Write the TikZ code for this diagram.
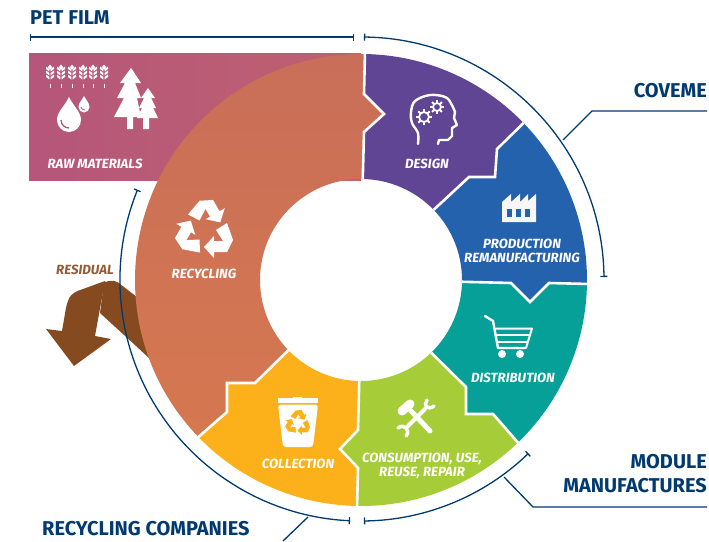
\documentclass[tikz,border=0pt]{standalone}
\usepackage{fontspec}
\setmainfont{Fira Sans}
\usetikzlibrary{calc}
\usetikzlibrary{arrows.meta}
\definecolor{navy}{HTML}{003A70}
\definecolor{rawleft}{HTML}{B5567A}
\definecolor{rawright}{HTML}{BF6170}
\definecolor{recytop}{HTML}{C96E59}
\definecolor{recybot}{HTML}{D5784F}
\definecolor{designc}{HTML}{604595}
\definecolor{prodc}{HTML}{2462AE}
\definecolor{distc}{HTML}{06A099}
\definecolor{usec}{HTML}{A6CD38}
\definecolor{collc}{HTML}{FCB019}
\definecolor{residc}{HTML}{864A20}
\tikzset{
    headlab/.style={font=\fontsize{20}{24}\selectfont\bfseries, text=navy, inner sep=0pt, align=right},
    steplab/.style={font=\fontsize{13.3}{14}\selectfont\bfseries\itshape, text=white, inner sep=0pt, align=center},
    navyline/.style={navy, line width=1.3pt},
    navybar/.style={navyline, {Bar[width=7pt,line width=1.3pt]}-{Bar[width=7pt,line width=1.3pt]}},
    sepline/.style={white, line width=2.6pt, line join=miter},
    iconline/.style={white, line width=2.4pt, line cap=round, line join=round},
    % three chasing arrows, drawn around their centre
    recyclesign/.pic={
        \foreach \r in {0,120,240} {
            \fill[rotate=\r] (9,28) -- (9,22) -- (22,22) -- (28,10) -- (22,-7) -- (11,0)
                -- (18,11) -- (9,11) -- (9,6) -- (-1,17) -- cycle;
        }
    },
    gearsign/.pic={
        \draw[white, line width=1.8pt] (0,0) circle (#1);
        \foreach \r in {0,45,...,315} {
            \draw[white, line width=2pt, rotate=\r] (#1,0) -- (#1+3,0);
        }
    },
    wheatsign/.pic={
        \fill (0,-8.5) -- (2,-6) -- (0,-3) -- (-2,-6) -- cycle;
        \foreach \h in {-4,0,4} {
            \fill (-0.6,\h) -- (-4,\h-2.5) -- (-4,\h) -- (-0.6,\h+2.5) -- cycle;
            \fill (0.6,\h) -- (4,\h-2.5) -- (4,\h) -- (0.6,\h+2.5) -- cycle;
        }
        \draw[white, line width=0.7pt] (0,10.5) -- (0,14.5);
    }
}
\begin{document}
\begin{tikzpicture}[x=1pt,y=-1pt]
    \useasboundingbox (0,0) rectangle (709,541);
    \coordinate (ringc) at (361,280);
    \foreach \n/\a in {a/89,b/44,c/-1,d/-46,e/-91,f/224} {
        \coordinate (o\n) at ($(ringc)+(\a:226pt)$);
        \coordinate (i\n) at ($(ringc)+(\a:101pt)$);
    }
    % raw materials block, under the ring
    \path[left color=rawleft, right color=rawright] (29,53) rectangle (361,180);
    % residual arrow
    \fill[residc, rounded corners=5pt] (104,282) -- (115,280) -- (160,315) -- (160,370)
        -- (148,357) [sharp corners] -- (100,313) -- cycle;
    \fill[residc] (105,281) [rounded corners=6pt] -- (72,293) -- (67,302) [sharp corners] -- (62,331)
        -- (46,329) -- (74,366) -- (111,339) -- (95,336) -- cycle;
    % ring sectors
    \path[top color=recytop, bottom color=recybot]
        (of) arc[start angle=224,end angle=89,radius=226pt] -- (364,94) -- (384,114) -- (364,132)
        -- (ia) arc[start angle=89,end angle=224,radius=101pt] -- (255,383) -- (227,383) -- (227,412) -- cycle;
    \fill[designc] (oa) arc[start angle=89,end angle=44,radius=226pt] -- (497,149) -- (495,177) -- (469,177)
        -- (ib) arc[start angle=44,end angle=89,radius=101pt] -- (364,132) -- (384,114) -- (364,94) -- cycle;
    \fill[prodc] (ob) arc[start angle=44,end angle=-1,radius=226pt] -- (549,283) -- (530,302) -- (511,283)
        -- (ic) arc[start angle=-1,end angle=44,radius=101pt] -- (469,177) -- (495,177) -- (497,149) -- cycle;
    \fill[distc] (oc) arc[start angle=-1,end angle=-46,radius=226pt] -- (493,414) -- (466,414) -- (466,387)
        -- (id) arc[start angle=-46,end angle=-1,radius=101pt] -- (511,283) -- (530,302) -- (549,283) -- cycle;
    \fill[usec] (od) arc[start angle=-46,end angle=-91,radius=226pt] -- (358,468) -- (340,449) -- (358,430)
        -- (ie) arc[start angle=-91,end angle=-46,radius=101pt] -- (466,387) -- (466,414) -- (493,414) -- cycle;
    \fill[collc] (oe) arc[start angle=-91,end angle=-136,radius=226pt] -- (227,412) -- (227,383) -- (255,383)
        -- (if) arc[start angle=224,end angle=269,radius=101pt] -- (358,430) -- (340,449) -- (358,468) -- cycle;
    % white seams between the sectors
    \draw[sepline] (ia) -- (364,132) -- (384,114) -- (364,94) -- (oa);
    \draw[sepline] (ib) -- (469,177) -- (495,177) -- (497,149) -- (ob);
    \draw[sepline] (ic) -- (511,283) -- (530,302) -- (549,283) -- (oc);
    \draw[sepline] (id) -- (466,387) -- (466,414) -- (493,414) -- (od);
    \draw[sepline] (ie) -- (358,430) -- (340,449) -- (358,468) -- (oe);
    \draw[sepline] (if) -- (255,383) -- (227,383) -- (227,412) -- (of);
    % brackets
    \draw[navybar] (30,37) -- (354,37);
    \draw[navybar] ($(ringc)+(89.3:243pt)$) arc[start angle=89.3,end angle=0.7,radius=243pt];
    \draw[navybar] ($(ringc)+(-89.3:241pt)$) arc[start angle=-89.3,end angle=-46,radius=241pt];
    \draw[navybar] ($(ringc)+(-92.6:241pt)$) arc[start angle=-92.6,end angle=-202,radius=241pt];
    % leader lines
    \coordinate (covemeat) at (563,140);
    \coordinate (covemebend) at (592,111);
    \coordinate (covemeend) at (707,111);
    \coordinate (moduleat) at (504,477);
    \coordinate (modulebend) at (533,507);
    \coordinate (moduleend) at (707,507);
    \coordinate (companyat) at (308,517);
    \coordinate (companyend) at (283,541);
    \draw[navyline] (covemeat) -- (covemebend) -- (covemeend);
    \draw[navyline] (moduleat) -- (modulebend) -- (moduleend);
    \draw[navyline] (companyat) -- (companyend);
    % outside labels
    \node[headlab, anchor=west] (petlab) at (30,17.5) {PET FILM};
    \node[headlab, anchor=east] (covemelab) at (707,91) {COVEME};
    \node[headlab, anchor=east] (modulelab) at (707,474) {MODULE\\MANUFACTURES};
    \node[headlab, anchor=west] (companylab) at (42,529) {RECYCLING COMPANIES};
    \node[steplab, text=residc!90!white] (residlab) at (85,270) {RESIDUAL};
    % inside labels
    \node[steplab] (rawlab) at (95,164) {RAW MATERIALS};
    \node[steplab] (designlab) at (427,164) {DESIGN};
    \node[steplab] (prodlab) at (522,251) {PRODUCTION\\REMANUFACTURING};
    \node[steplab] (distlab) at (513,378) {DISTRIBUTION};
    \node[steplab] (uselab) at (422,465.5) {CONSUMPTION, USE,\\REUSE, REPAIR};
    \node[steplab] (colllab) at (298,464) {COLLECTION};
    \node[steplab] (recylab) at (204,274) {RECYCLING};
    % raw material icons
    \foreach \x in {50,61,72,83,93,104} {
        \pic[white] at (\x,73) {wheatsign};
    }
    \fill[white] (69,97) .. controls (64,107) and (57,112) .. (57,120) arc[start angle=180,end angle=360,radius=12pt]
        .. controls (81,112) and (74,107) .. (69,97) -- cycle;
    \draw[rawleft, line width=1.3pt] (61,120) .. controls (61,125) and (65,128) .. (69,128);
    \fill[white] (84,96) .. controls (82,100) and (78.5,103) .. (78.5,107) arc[start angle=180,end angle=360,radius=5.5pt]
        .. controls (89.5,103) and (86,100) .. (84,96) -- cycle;
    \draw[rawleft, line width=0.8pt] (81,107) .. controls (81,109) and (83,110) .. (85,110);
    \fill[white] (131,68) -- (141,83) -- (135,83) -- (141,98) -- (137,98) -- (141,117) -- (133,117) -- (133,129)
        -- (127,129) -- (127,117) -- (114,117) -- (124,98) -- (117,98) -- (125,83) -- (120,83) -- cycle;
    \fill[white] (148,88) -- (155,98) -- (151,98) -- (156,108) -- (153,108) -- (158,118) -- (149,118) -- (149,129)
        -- (143,129) -- (143,118) -- (137,118) -- (142,108) -- (139,108) -- (144,98) -- (141,98) -- cycle;
    % design icon
    \draw[iconline] plot[smooth, tension=0.55] coordinates {(418,144) (418,133) (412,123) (411,112) (415,101) (430,95) (447,98) (455,112)};
    \draw[iconline] (455,112) -- (454,118) -- (457,125) -- (452,128) -- (452,136) -- (448,140) -- (439,140) -- (438,144);
    \pic at (424,117) {gearsign=5};
    \pic at (437,107) {gearsign=4};
    % factory icon
    \fill[white!97!black] (502,222) -- (502,202) -- (511,194) -- (511,202) -- (520,194) -- (520,202) -- (528,194) -- (528,201)
        -- (536,194) -- (536,222) -- cycle;
    \foreach \x in {507,516,524.5} {
        \fill[prodc] (\x,209) rectangle (\x+5,217);
    }
    % cart icon
    \draw[iconline] (485,316) -- (493,321) -- (498,348) -- (525,348);
    \draw[iconline, line width=2pt] (496,328.5) -- (532,328.5) -- (526,348);
    \draw[iconline, line width=2pt] (497,335) -- (529,335);
    \draw[iconline, line width=2pt] (498,341.5) -- (527,341.5);
    \fill[white] (502,354) circle (4);
    \fill[white] (520,354) circle (4);
    % tools icon
    \draw[iconline, line width=5pt] (411,411) -- (430,431);
    \draw[iconline, line width=9pt] (402,411) -- (410,404);
    \draw[iconline, line width=4pt] (408,426) -- (425,409);
    \draw[iconline, line width=3.5pt] (427,400) .. controls (423,405) and (427,411) .. (434,406);
    \draw[iconline, line width=3.5pt] (398,428) .. controls (404,423) and (411,430) .. (406,436);
    % bin icon
    \fill[white] (278,398) rectangle (318,403);
    \fill[white] (293,396.5) rectangle (302,399);
    \fill[white, rounded corners=3pt] (278,404.5) -- (318,404.5) -- (313,447) -- (283,447) -- cycle;
    \pic[collc, scale=0.43] at (298,423) {recyclesign};
    % recycling icon
    \pic[white] at (205,230) {recyclesign};
\end{tikzpicture}
\end{document}
